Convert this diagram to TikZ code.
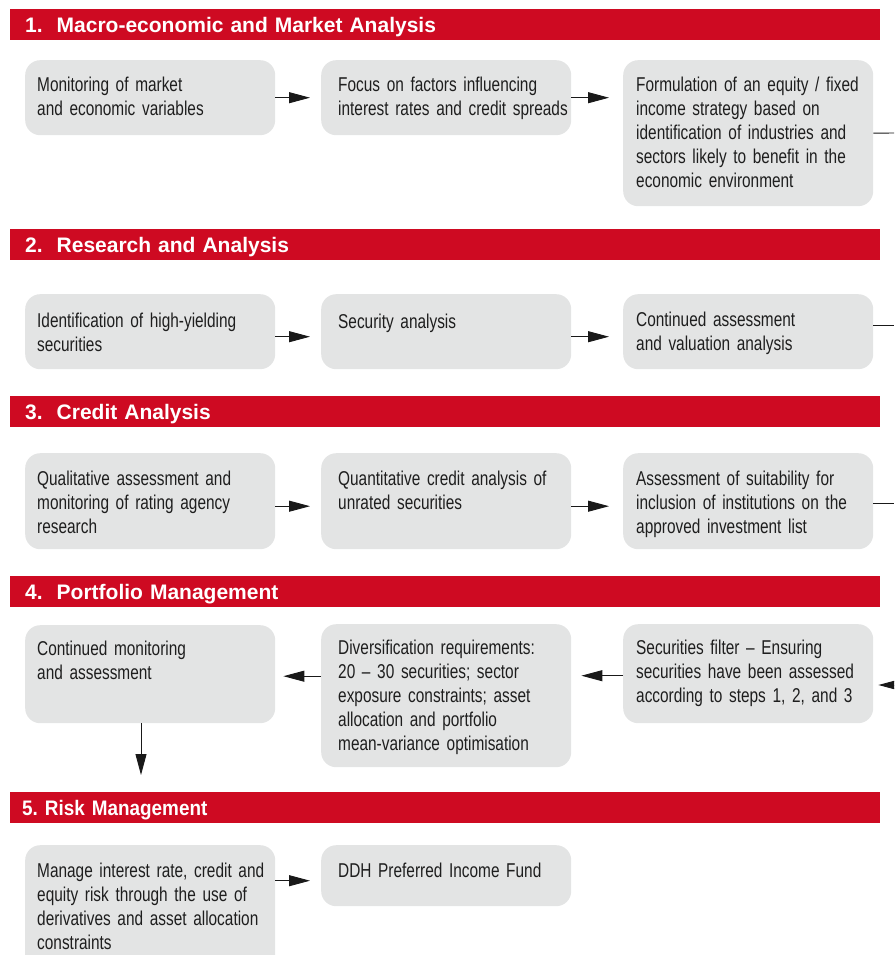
\documentclass[tikz,border=0pt]{standalone}
\usepackage{fontspec}
\setmainfont{Liberation Sans}
\newfontfamily\condfont[FakeStretch=0.77, WordSpace=0.7]{Liberation Sans}
\newfontfamily\narrowfont[FakeStretch=0.9]{Liberation Sans}
\usetikzlibrary{arrows.meta}
\frenchspacing

\definecolor{ddhred}{RGB}{206,10,34}
\definecolor{boxgray}{RGB}{227,228,228}
\definecolor{inkgray}{RGB}{30,30,30}

\tikzset{
  head/.style={fill=ddhred, text=white, anchor=north west, minimum width=870pt,
    minimum height=31pt, inner ysep=0pt, inner xsep=15pt, text width=840pt,
    align=left, text height=15pt, text depth=0pt,
    font=\fontsize{21}{25}\selectfont\bfseries},
  box/.style={fill=boxgray, rounded corners=15pt, anchor=north west,
    minimum width=250pt, inner sep=0pt},
  boxtext/.style={anchor=base west, inner xsep=12pt, inner ysep=0pt,
    text width=240pt, align=left, text=inkgray,
    font=\condfont\fontsize{20}{24}\selectfont},
  flow/.style={draw=black!90, line width=0.9pt, -{Triangle[length=21pt,width=11pt]}},
  link/.style={draw=black!90, line width=0.9pt},
}

\begin{document}
\begin{tikzpicture}[x=1pt, y=-1pt]
  \useasboundingbox (0,0) rectangle (894,955);
  \clip (0,0) rectangle (894,955);

  % 見出し
  \node[head] (h1) at (10,9) {1.\ \ Macro-economic and Market Analysis};
  \node[head] (h2) at (10,229) {2.\ \ Research and Analysis};
  \node[head] (h3) at (10,396) {3.\ \ Credit Analysis};
  \node[head] (h4) at (10,576) {4.\ \ Portfolio Management};
  \node[head, inner xsep=12pt, text width=846pt,
    font=\narrowfont\fontsize{21}{25}\selectfont\bfseries] (h5) at (10,792) {5. Risk Management};

  % ボックス
  \node[box, minimum height=75pt] (mon) at (25,60) {};
  \node[box, minimum height=75pt] (foc) at (321,60) {};
  \node[box, minimum height=146pt] (form) at (623,60) {};

  \node[box, minimum height=75pt] (idn) at (25,294) {};
  \node[box, minimum height=75pt] (sec) at (321,294) {};
  \node[box, minimum height=75pt] (val) at (623,294) {};

  \node[box, minimum height=96pt] (qual) at (25,453) {};
  \node[box, minimum height=96pt] (quant) at (321,453) {};
  \node[box, minimum height=96pt] (suit) at (623,453) {};

  \node[box, minimum height=98pt] (cmon) at (25,625) {};
  \node[box, minimum height=143pt] (div) at (321,624) {};
  \node[box, minimum height=99pt] (sfil) at (623,624) {};

  \node[box, minimum height=130pt] (mng) at (25,845) {};
  \node[box, minimum height=61pt] (ddh) at (321,845) {};

  % テキスト
  \node[boxtext] (mon-t) at ([yshift=-32pt]mon.north west) {Monitoring of market\\and economic variables};
  \node[boxtext] (foc-t) at ([xshift=5pt,yshift=-32pt]foc.north west) {Focus on factors influencing\\interest rates and credit spreads};
  \node[boxtext] (form-t) at ([xshift=1pt,yshift=-32pt]form.north west) {Formulation of an equity / fixed\\income strategy based on\\identification of industries and\\sectors likely to benefit in the\\economic environment};

  \node[boxtext] (idn-t) at ([yshift=-33pt]idn.north west) {Identification of high-yielding\\securities};
  \node[boxtext] (sec-t) at ([xshift=5pt,yshift=-34pt]sec.north west) {Security analysis};
  \node[boxtext] (val-t) at ([xshift=1pt,yshift=-32pt]val.north west) {Continued assessment\\and valuation analysis};

  \node[boxtext] (qual-t) at ([yshift=-32pt]qual.north west) {Qualitative assessment and\\monitoring of rating agency\\research};
  \node[boxtext] (quant-t) at ([xshift=5pt,yshift=-32pt]quant.north west) {Quantitative credit analysis of\\unrated securities};
  \node[boxtext] (suit-t) at ([xshift=1pt,yshift=-32pt]suit.north west) {Assessment of suitability for\\inclusion of institutions on the\\approved investment list};

  \node[boxtext] (cmon-t) at ([yshift=-30pt]cmon.north west) {Continued monitoring\\and assessment};
  \node[boxtext] (div-t) at ([xshift=5pt,yshift=-30pt]div.north west) {Diversification requirements:\\20 – 30 securities; sector\\exposure constraints; asset\\allocation and portfolio\\mean-variance optimisation};
  \node[boxtext] (sfil-t) at ([xshift=1pt,yshift=-30pt]sfil.north west) {Securities filter – Ensuring\\securities have been assessed\\according to steps 1, 2, and 3};

  \node[boxtext] (mng-t) at ([yshift=-32pt]mng.north west) {Manage interest rate, credit and\\equity risk through the use of\\derivatives and asset allocation\\constraints};
  \node[boxtext] (ddh-t) at ([xshift=5pt,yshift=-32pt]ddh.north west) {DDH Preferred Income Fund};

  % 右端の線
  \coordinate (r1) at (894,133);
  \coordinate (r2) at (894,325);
  \coordinate (r3) at (894,503);
  \coordinate (r4) at (894,685);
  \coordinate (d4) at (141,775);

  % 矢印
  \draw[flow] (mon.east) -- ([xshift=-11pt]foc.west);
  \draw[flow] (foc.east) -- ([xshift=-14pt]form.west |- foc.east);
  \draw[link] (form.east) -- (r1);

  \draw[flow] ([yshift=-5pt]idn.east) -- ([xshift=-11pt,yshift=-5pt]sec.west);
  \draw[flow] ([yshift=-5pt]sec.east) -- ([xshift=-14pt,yshift=-5pt]val.west);
  \draw[link] (val.east |- r2) -- (r2);

  \draw[flow] ([yshift=-5pt]qual.east) -- ([xshift=-11pt,yshift=-5pt]quant.west);
  \draw[flow] ([yshift=-5pt]quant.east) -- ([xshift=-14pt,yshift=-5pt]suit.west);
  \draw[link] (suit.east |- r3) -- (r3);

  \draw[flow] (r4) -- ([xshift=5pt]sfil.east |- r4);
  \draw[flow] ([yshift=-2pt]sfil.west) -- ([xshift=10pt,yshift=-2pt]div.east |- sfil.west);
  \draw[flow] ([yshift=-2pt]div.west |- cmon.east) -- ([xshift=8pt,yshift=-2pt]cmon.east);
  \draw[flow] (d4 |- cmon.south) -- (d4);

  \draw[flow] ([yshift=-5pt]mng.east |- ddh.west) -- ([xshift=-11pt,yshift=-5pt]ddh.west);

\end{tikzpicture}
\end{document}
